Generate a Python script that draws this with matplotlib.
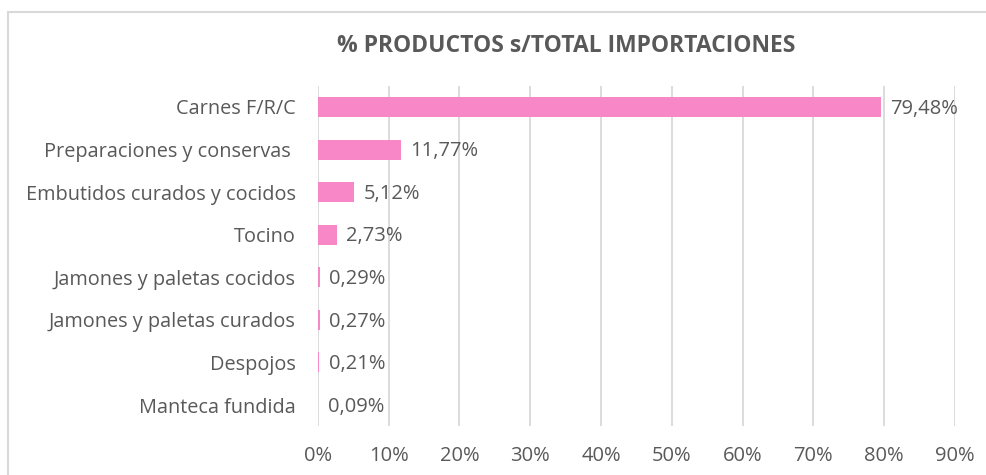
import matplotlib
matplotlib.use('Agg')
import matplotlib.pyplot as plt
from matplotlib.patches import Rectangle

# datos del gráfico
categorias = ['Carnes F/R/C', 'Preparaciones y conservas ', 'Embutidos curados y cocidos',
              'Tocino', 'Jamones y paletas cocidos', 'Jamones y paletas curados',
              'Despojos', 'Manteca fundida']
valores = [79.48, 11.77, 5.12, 2.73, 0.29, 0.27, 0.21, 0.09]
ticks = [0, 10, 20, 30, 40, 50, 60, 70, 80, 90]

plt.rcParams['font.family'] = ['Open Sans', 'DejaVu Sans']
gris = '#595959'
rosa = '#F787C6'

fig = plt.figure(figsize=(9.87, 4.75), dpi=100)
ax = fig.add_axes([0.322, 0.1025, 0.9676 - 0.322, 0.8196 - 0.1025])

y = list(range(len(categorias)))
ax.barh(y, valores, height=0.47, color=rosa, zorder=3)
ax.set_ylim(len(categorias) - 0.5, -0.5)
ax.set_xlim(0, 90)

for yi, v in zip(y, valores):
    ax.text(v + 1.3, yi + 0.04, f'{v:.2f}%'.replace('.', ','), va='center', ha='left',
            fontsize=14.5, color=gris, zorder=4)

ax.set_yticks(y)
ax.set_yticklabels(categorias, fontsize=14.3, color=gris)
ax.set_xticks(ticks)
ax.set_xticklabels([f'{t}%' for t in ticks], fontsize=14.5, color=gris)
ax.tick_params(axis='both', length=0)
ax.tick_params(axis='y', pad=16)
ax.tick_params(axis='x', pad=14)
ax.grid(axis='x', color='#D9D9D9', linewidth=1.3, zorder=0)
for s in ax.spines.values():
    s.set_visible(False)

fig.text(0.574, 0.903, '% PRODUCTOS s/TOTAL IMPORTACIONES', ha='center', va='center',
         fontsize=16.5, fontweight='bold', color=gris)

# marco del gráfico
fig.patches.append(Rectangle((8 / 987, -0.1), 1.2, 1 - 12 / 475 + 0.1,
                             transform=fig.transFigure, fill=False,
                             edgecolor='#D9D9D9', linewidth=1.5))

fig.savefig('out.png', dpi=100, facecolor='white')
